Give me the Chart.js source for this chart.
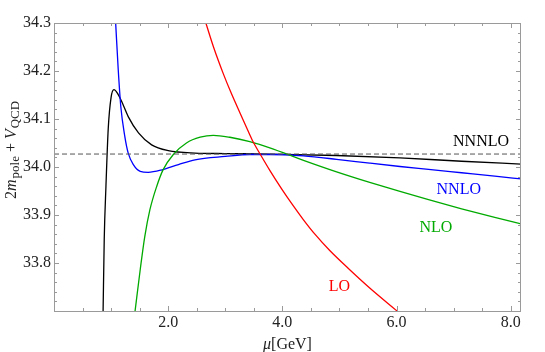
<!DOCTYPE html>
<html>
<head>
<meta charset="utf-8">
<script src="https://cdn.jsdelivr.net/npm/chart.js@4.4.1/dist/chart.umd.min.js"></script>
<style>
  html, body { margin: 0; padding: 0; background: #fff; }
  #wrap { width: 545px; height: 352px; }
</style>
</head>
<body>
<div id="wrap"><canvas id="chart" width="545" height="352"></canvas></div>
<script>
// values (mu in GeV, energy in GeV)
const muLO = [2.66, 2.80, 2.97, 3.10, 3.26, 3.40, 3.49, 3.61, 3.78, 3.99, 4.18, 4.37, 4.57, 4.83, 5.18, 5.53, 6.01];
const valLO = [34.30, 34.248, 34.193, 34.155, 34.112, 34.075, 34.052, 34.027, 33.993, 33.954, 33.921, 33.89, 33.86, 33.826, 33.786, 33.748, 33.70];

const muNLO = [1.42, 1.51, 1.59, 1.68, 1.80, 1.91, 2.09, 2.32, 2.56, 2.79, 3.08, 3.43, 3.78, 4.37, 4.95, 5.53, 6.06, 6.56, 7.14, 7.72, 8.20];
const valNLO = [33.70, 33.786, 33.855, 33.911, 33.96, 33.994, 34.026, 34.05, 34.062, 34.066, 34.062, 34.053, 34.04, 34.014, 33.990, 33.968, 33.949, 33.932, 33.913, 33.895, 33.881];

const muNNLO = [1.08, 1.125, 1.17, 1.24, 1.30, 1.39, 1.51, 1.65, 1.89, 2.18, 2.47, 3.00, 3.43, 3.78, 4.37, 4.95, 5.53, 6.06, 6.56, 7.14, 7.72, 8.20];
const valNNLO = [34.30, 34.203, 34.126, 34.064, 34.029, 34.005, 33.991, 33.989, 33.994, 34.005, 34.015, 34.022, 34.026, 34.026, 34.023, 34.016, 34.008, 34.001, 33.995, 33.988, 33.981, 33.975];

const muNNNLO = [0.86, 0.88, 0.91, 0.95, 1.00, 1.05, 1.12, 1.18, 1.30, 1.48, 1.71, 2.00, 2.47, 3.00, 3.78, 4.95, 6.06, 7.14, 8.20];
const valNNNLO = [33.70, 33.85, 33.96, 34.08, 34.145, 34.161, 34.152, 34.138, 34.105, 34.071, 34.046, 34.034, 34.029, 34.028, 34.027, 34.024, 34.019, 34.012, 34.006];

const refLevel = 34.027;
const xTicks = [2, 4, 6, 8];
const yTicks = [33.8, 33.9, 34.0, 34.1, 34.2, 34.3];
const seriesNames = ['LO', 'NLO', 'NNLO', 'NNNLO'];

const X_MIN = 0, X_MAX = 8.18, Y_MIN = 33.7, Y_MAX = 34.3;
const SERIF = '"Liberation Serif", "DejaVu Serif", serif';
const colors = { LO: '#ff0000', NLO: '#00aa00', NNLO: '#0000ff', NNNLO: '#000000' };

function zip(xs, ys) {
    return xs.map((x, i) => ({ x: x, y: ys[i] }));
}

function curve(name, xs, ys) {
    return {
        label: name,
        data: zip(xs, ys),
        borderColor: colors[name],
        borderWidth: 1.3,
        pointRadius: 0,
        fill: false,
        cubicInterpolationMode: 'monotone'
    };
}

// frame with inward ticks, like the original
const framePlugin = {
    id: 'frame',
    afterDatasetsDraw(chart) {
        const { ctx, chartArea: a, scales } = chart;
        const xs = scales.x, ys = scales.y;
        ctx.save();
        ctx.strokeStyle = '#9a9a9a';
        ctx.lineWidth = 1;
        ctx.strokeRect(a.left + 0.5, a.top + 0.5, a.right - a.left - 1, a.bottom - a.top);

        ctx.beginPath();
        for (let v = 0.5; v < X_MAX; v += 0.5) {
            const major = xTicks.some(t => Math.abs(t - v) < 1e-6);
            const len = major ? 5 : 3;
            const px = Math.round(xs.getPixelForValue(v)) + 0.5;
            ctx.moveTo(px, a.bottom); ctx.lineTo(px, a.bottom - len);
            ctx.moveTo(px, a.top); ctx.lineTo(px, a.top + len);
        }
        for (let i = 1; i < 30; i++) {
            const v = Y_MIN + i * 0.02;
            const major = i % 5 === 0;
            const len = major ? 5 : 3;
            const py = Math.round(ys.getPixelForValue(v)) + 0.5;
            ctx.moveTo(a.left, py); ctx.lineTo(a.left + len, py);
            ctx.moveTo(a.right, py); ctx.lineTo(a.right - len, py);
        }
        ctx.stroke();
        ctx.restore();
    }
};

// curve names and axis titles
const textPlugin = {
    id: 'texts',
    afterDraw(chart) {
        const { ctx, scales } = chart;
        const xs = scales.x, ys = scales.y;
        const spots = {
            NNNLO: [7.48, 34.053],
            NNLO: [7.09, 33.953],
            NLO: [6.69, 33.873],
            LO: [5.0, 33.751]
        };
        ctx.save();
        ctx.font = '16px ' + SERIF;
        ctx.textAlign = 'center';
        ctx.textBaseline = 'middle';
        seriesNames.forEach(n => {
            ctx.fillStyle = colors[n];
            ctx.fillText(n, xs.getPixelForValue(spots[n][0]), ys.getPixelForValue(spots[n][1]));
        });

        // x title: mu[GeV]
        ctx.fillStyle = '#222';
        ctx.textAlign = 'left';
        ctx.textBaseline = 'alphabetic';
        const italic = 'italic 16px ' + SERIF, upright = '16px ' + SERIF;
        ctx.font = italic;
        const wMu = ctx.measureText('\u03bc').width;
        ctx.font = upright;
        const wRest = ctx.measureText('[GeV]').width;
        let x0 = (chart.chartArea.left + chart.chartArea.right) / 2 - (wMu + wRest) / 2;
        ctx.font = italic;
        ctx.fillText('\u03bc', x0, 349);
        ctx.font = upright;
        ctx.fillText('[GeV]', x0 + wMu, 349);

        // y title: 2 m_pole + V_QCD
        const sub = '13px ' + SERIF;
        const parts = [
            ['2', upright, 0, 0],
            ['m', italic, 0, 1],
            ['pole', sub, 3, 4],
            ['+', upright, 0, 4],
            ['V', italic, 0, 1],
            ['QCD', sub, 3, 0]
        ];
        ctx.translate(16, 199);
        ctx.rotate(-Math.PI / 2);
        let pos = 0;
        parts.forEach(p => {
            ctx.font = p[1];
            ctx.fillText(p[0], pos, p[2]);
            pos += ctx.measureText(p[0]).width + p[3];
        });
        ctx.restore();
    }
};

new Chart(document.getElementById('chart'), {
    type: 'line',
    data: {
        datasets: [
            {
                label: 'ref',
                data: [{ x: X_MIN, y: refLevel }, { x: X_MAX, y: refLevel }],
                borderColor: '#555',
                borderWidth: 1,
                borderDash: [5, 3],
                pointRadius: 0
            },
            curve('LO', muLO, valLO),
            curve('NLO', muNLO, valNLO),
            curve('NNLO', muNNLO, valNNLO),
            curve('NNNLO', muNNNLO, valNNNLO)
        ]
    },
    options: {
        responsive: false,
        animation: false,
        devicePixelRatio: 1,
        layout: { padding: { top: 23, right: 24, left: 0, bottom: 0 } },
        plugins: {
            legend: { display: false },
            tooltip: { enabled: false }
        },
        scales: {
            x: {
                type: 'linear',
                min: X_MIN,
                max: X_MAX,
                grid: { display: false, drawTicks: false, tickLength: 0 },
                border: { display: false },
                afterFit: s => { s.height = 41; },
                afterBuildTicks: s => { s.ticks = xTicks.map(v => ({ value: v })); },
                ticks: {
                    padding: 2,
                    maxRotation: 0,
                    color: '#222',
                    font: { family: SERIF, size: 16 },
                    callback: v => Number(v).toFixed(1)
                }
            },
            y: {
                type: 'linear',
                min: Y_MIN,
                max: Y_MAX,
                grid: { display: false, drawTicks: false, tickLength: 0 },
                border: { display: false },
                afterFit: s => { s.width = 54; },
                afterBuildTicks: s => { s.ticks = yTicks.map(v => ({ value: v })); },
                ticks: {
                    padding: 3,
                    color: '#222',
                    font: { family: SERIF, size: 16 },
                    callback: v => Number(v).toFixed(1)
                }
            }
        }
    },
    plugins: [framePlugin, textPlugin]
});
</script>
</body>
</html>
